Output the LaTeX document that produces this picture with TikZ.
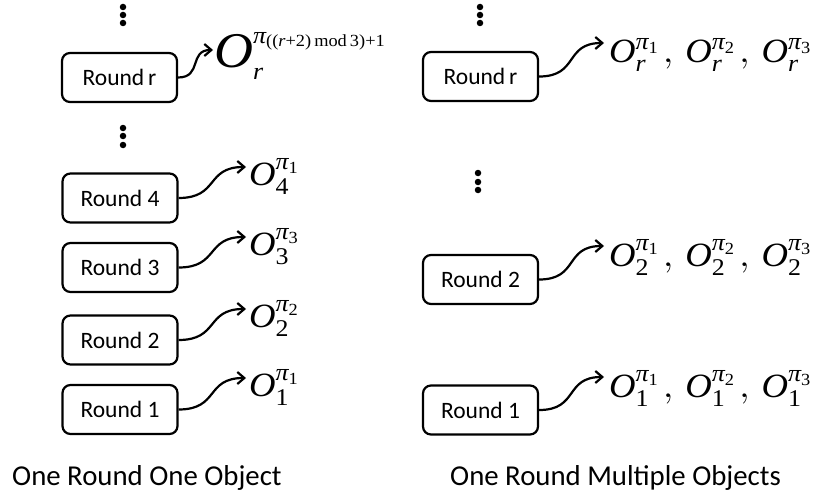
\documentclass[tikz,border=0pt]{standalone}
\usepackage{mathptmx}
\usepackage{amsmath}
\usepackage[no-math]{fontspec}
\setmainfont{Liberation Serif}
\setsansfont{Carlito}
\usepackage{graphicx}
\usetikzlibrary{arrows.meta}
\DeclareMathSizes{34}{34}{24}{17}
\DeclareMathSizes{50}{50}{24}{17}
\newcommand\labsize{\fontsize{34}{40}\selectfont}
\newcommand\biglabsize{\fontsize{50}{56}\selectfont}
\newcommand\wid[1]{\scalebox{1.08}[1]{#1}}
\newcommand\Ob[2]{\text{\itshape O}_{\text{#1}}^{\text{\itshape π}_{\text{#2}}}}
\newcommand\sep{\,,\;}
\tikzset{
  roundbox/.style={draw, line width=2.2pt, rounded corners=8pt, minimum width=115pt,
    minimum height=49pt, inner sep=0pt, font=\sffamily\fontsize{23.5}{25}\selectfont},
  conn/.style={line width=2.2pt, looseness=1.4, -{Straight Barb[length=7pt,width=12pt,line width=2.2pt]}},
  dotnode/.style={circle, fill=black, inner sep=0pt, minimum size=6.5pt},
  lab/.style={anchor=base west, inner sep=0pt, font=\labsize},
  caption/.style={anchor=base west, inner sep=0pt, font=\sffamily\fontsize{28.8}{31}\selectfont}
}
\begin{document}
\begin{tikzpicture}[x=1pt,y=-1pt]
\useasboundingbox (0,0) rectangle (817,495);
% left column
\node[dotnode] (ld1) at (123,7) {};
\node[dotnode] (ld2) at (123,15) {};
\node[dotnode] (ld3) at (123,23) {};
\node[dotnode] (ld4) at (123,128) {};
\node[dotnode] (ld5) at (123,136) {};
\node[dotnode] (ld6) at (123,145) {};
\node[roundbox] (Lr) at (119.5,77.5) {Round\,r};
\node[roundbox] (L4) at (120,198) {Round 4};
\node[roundbox] (L3) at (120,267.5) {Round 3};
\node[roundbox] (L2) at (120,340) {Round 2};
\node[roundbox] (L1) at (120,409.5) {Round 1};
\coordinate (tLr) at (213,50);
\coordinate (tL4) at (246,167);
\coordinate (tL3) at (246,237);
\coordinate (tL2) at (246,309);
\coordinate (tL1) at (246,378);
\node[lab, font=\biglabsize] (oLr) at (214,67) {\wid{$\text{\itshape O}_{\text{\itshape r}}^{\text{\itshape π}_{\text{((\itshape r\upshape+2)\,mod\,3)+1}}}$}};
\node[lab] (oL4) at (249,185) {\wid{$\Ob{4}{1}$}};
\node[lab] (oL3) at (249,255) {\wid{$\Ob{3}{3}$}};
\node[lab] (oL2) at (249,327) {\wid{$\Ob{2}{2}$}};
\node[lab] (oL1) at (249,396) {\wid{$\Ob{1}{1}$}};
\draw[conn] (Lr.east) to[out=0,in=180] (tLr);
\draw[conn] (L4.east) to[out=0,in=180] (tL4);
\draw[conn] (L3.east) to[out=0,in=180] (tL3);
\draw[conn] (L2.east) to[out=0,in=180] (tL2);
\draw[conn] (L1.east) to[out=0,in=180] (tL1);
% right column
\node[dotnode] (rd1) at (480,7) {};
\node[dotnode] (rd2) at (480,15) {};
\node[dotnode] (rd3) at (480,23) {};
\node[dotnode] (rd4) at (478,173) {};
\node[dotnode] (rd5) at (478,182) {};
\node[dotnode] (rd6) at (478,190) {};
\node[roundbox] (Rr) at (480.5,76.5) {Round\,r};
\node[roundbox] (R2) at (480.5,279.5) {Round 2};
\node[roundbox] (R1) at (480.5,410) {Round 1};
\coordinate (tRr) at (604,43);
\coordinate (tR2) at (604,246);
\coordinate (tR1) at (604,377);
\node[lab] (oRr) at (609,63) {\wid{$\Ob{\itshape r}{1}\sep\Ob{\itshape r}{2}\sep\Ob{\itshape r}{3}$}};
\node[lab] (oR2) at (609,266) {\wid{$\Ob{2}{1}\sep\Ob{2}{2}\sep\Ob{2}{3}$}};
\node[lab] (oR1) at (609,397) {\wid{$\Ob{1}{1}\sep\Ob{1}{2}\sep\Ob{1}{3}$}};
\draw[conn] (Rr.east) to[out=0,in=180] (tRr);
\draw[conn] (R2.east) to[out=0,in=180] (tR2);
\draw[conn] (R1.east) to[out=0,in=180] (tR1);
% captions
\node[caption] (capL) at (12,485) {One Round One Object};
\node[caption] (capR) at (450,485) {One Round Multiple Objects};
\end{tikzpicture}
\end{document}
